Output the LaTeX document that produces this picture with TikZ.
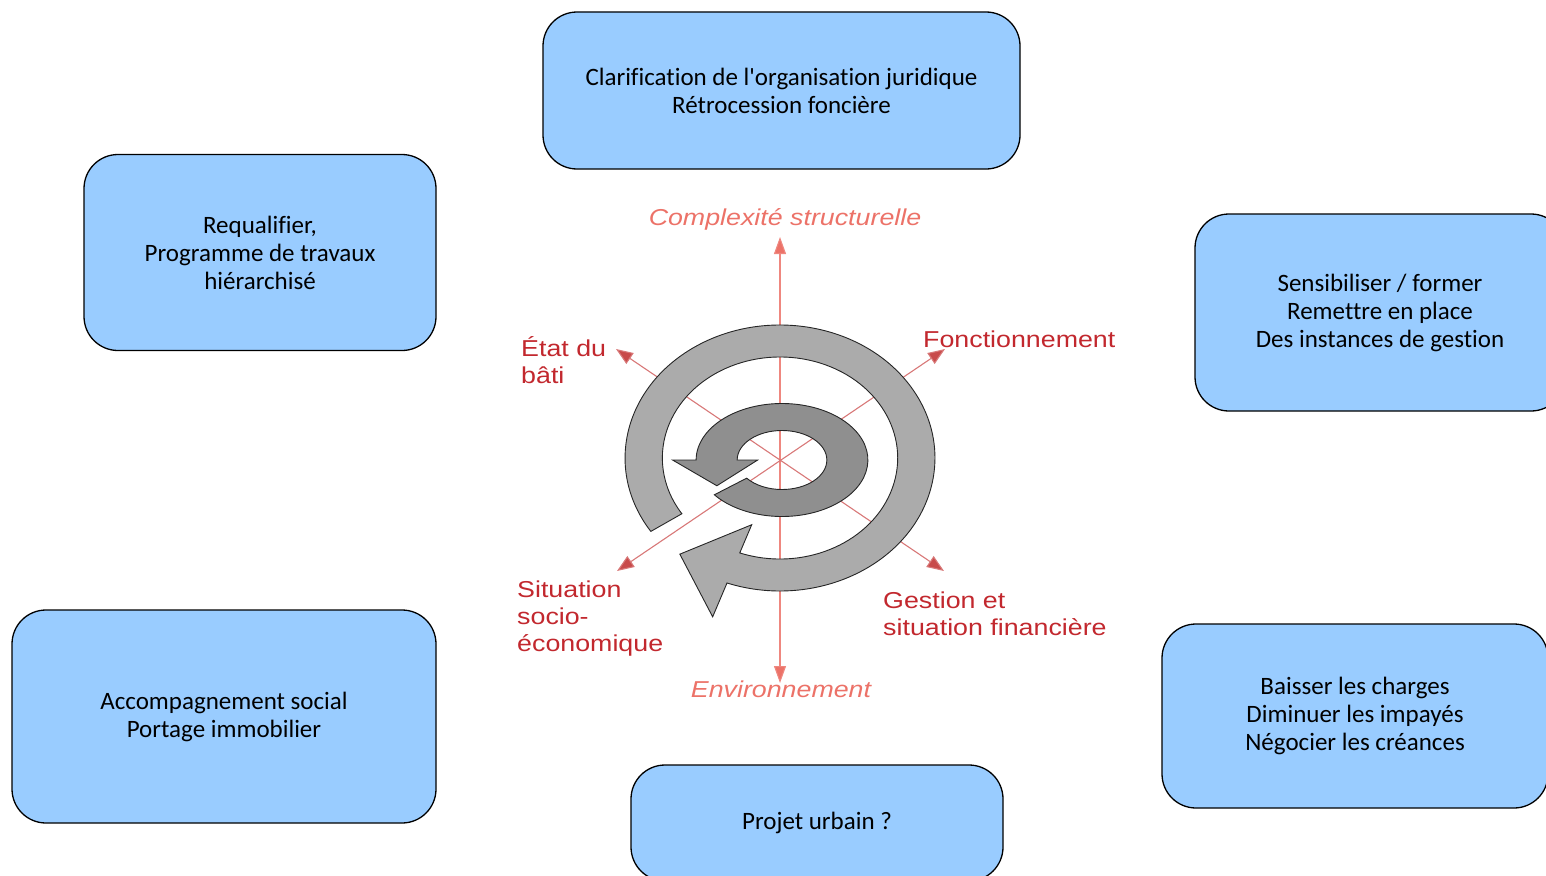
\documentclass[tikz,border=0pt]{standalone}
\usepackage{fontspec}
\setmainfont{Carlito}[Ligatures={TeXOff,CommonOff}]
\newfontfamily\labfont[FakeStretch=1.165]{Liberation Sans}
\usetikzlibrary{arrows.meta}
\definecolor{boxblue}{HTML}{99CCFF}
\definecolor{labred}{HTML}{C2282E}
\definecolor{salmon}{HTML}{EC7268}
\definecolor{axred}{HTML}{C84A4A}
\definecolor{axline}{HTML}{D87878}
\definecolor{ringA}{HTML}{ABABAB}
\definecolor{ringB}{HTML}{8F8F8F}
\begin{document}
\begin{tikzpicture}[x=1pt,y=-1pt,
  box/.style={draw=black, line width=1.3pt, fill=boxblue, rounded corners=34pt,
    align=center, inner sep=0pt, font=\fontsize{25}{28}\selectfont},
  lab/.style={text=labred, align=left, inner sep=0pt, font=\labfont\fontsize{23}{27}\selectfont},
  labit/.style={text=salmon, inner sep=0pt, font=\labfont\itshape\fontsize{23}{27}\selectfont},
  vaxis/.style={draw=salmon!85!white, line width=1.1pt, {Triangle[length=17pt,width=12pt,fill=salmon]}-{Triangle[length=17pt,width=12pt,fill=salmon]}},
  daxis/.style={draw=axline, line width=1.1pt, {Triangle[length=17pt,width=13pt,fill=axred]}-{Triangle[length=17pt,width=13pt,fill=axred]}},
  swirl/.style={draw=black!85, line width=0.9pt}]
\useasboundingbox (0,0) rectangle (1546,875);
\clip (0,0) rectangle (1546,875);

% boxes
\node[box, minimum width=477, minimum height=157] (b1) at (781.5,90.5)
  {Clarification de l'organisation juridique\\Rétrocession foncière};
\node[box, minimum width=352, minimum height=196] (b2) at (260,252.5)
  {Requalifier,\\Programme de travaux\\hiérarchisé};
\node[box, minimum width=370, minimum height=197] (b3) at (1380,312.5)
  {Sensibiliser / former\\Remettre en place\\Des instances de gestion};
\node[box, minimum width=424, minimum height=213] (b4) at (224,716.5)
  {Accompagnement social\\Portage immobilier};
\node[box, minimum width=386, minimum height=184] (b5) at (1355,716)
  {Baisser les charges\\Diminuer les impayés\\Négocier les créances};
\node[box, minimum width=372, minimum height=116] (b6) at (817,823)
  {Projet urbain ?};

% axes
\coordinate (c) at (780,458);
\coordinate (top) at (780,237);
\coordinate (bot) at (780,683);
\coordinate (nw) at (616,349);
\coordinate (se) at (944,571);
\coordinate (ne) at (945,349);
\coordinate (sw) at (617,571);
\draw[vaxis] (top) -- (bot);
\draw[daxis] (nw) -- (se);
\draw[daxis] (ne) -- (sw);

% outer circular arrow
\begin{scope}[shift={(780,458)}, yscale=-1, xscale=1.165]
\path[swirl, fill=ringA] (213.5:133) arc[start angle=213.5, end angle=-110, radius=133]
  -- (-110:169) -- (-131.8:129) -- (-110:71) -- (-110:101)
  arc[start angle=-110, end angle=213.5, radius=101] -- cycle;
\end{scope}
% inner spiral arrow
\begin{scope}[shift={(782,460)}, yscale=-1, xscale=1.52]
\path[swirl, fill=ringB] (218:56.5) arc[start angle=218, end angle=540, radius=56.5]
  -- (540:72) -- (571:50) -- (540:16) -- (540:29.5)
  arc[start angle=540, end angle=218, radius=29.5] -- cycle;
\end{scope}

% labels
\node[labit, anchor=base] (lcomp) at (785,225) {Complexité structurelle};
\node[labit, anchor=base] (lenv) at (781,697) {Environnement};
\node[lab, anchor=west] (letat) at (521,360) {État du\\bâti};
\node[lab, anchor=base west] (lfonc) at (923,347) {Fonctionnement};
\node[lab, anchor=west] (lsit) at (517,619) {Situation\\socio-\\économique};
\node[lab, anchor=west] (lgest) at (883,614) {Gestion et\\situation financière};

% fine text placement inside boxes (box texts are centred in the boxes)
\end{tikzpicture}
\end{document}
